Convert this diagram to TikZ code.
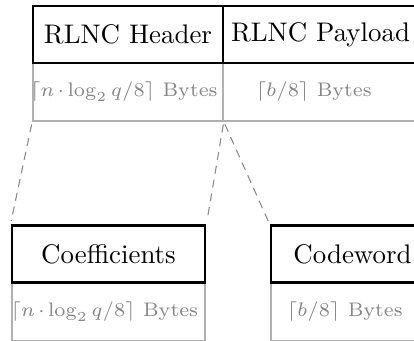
\documentclass[tikz,border=0pt]{standalone}
\usepackage{amsmath}
\usepackage{fix-cm}
\definecolor{frameg}{HTML}{B0B0B0}
\definecolor{textg}{HTML}{858585}
\definecolor{dashg}{HTML}{8A8A8A}
% byte-count formula with slightly tighter binary-operator spacing
\newcommand{\bytesof}[1]{$\medmuskip=2.5mu #1$ Bytes}
\begin{document}
\begin{tikzpicture}[x=0.372pt,y=-0.372pt,
  field/.style={draw=black,line width=1.1pt,fill=white,inner sep=0pt,
    minimum height=57*0.372pt,font=\normalsize},
  sizebox/.style={draw=frameg,line width=0.6pt,inner sep=0pt,
    minimum height=58*0.372pt},
  sizetext/.style={text=textg,inner sep=0pt,
    font=\fontsize{7.3pt}{9pt}\selectfont},
  zoomline/.style={draw=dashg,line width=0.4pt,dash pattern=on 3pt off 2.2pt,
    shorten <=1pt,shorten >=1.2pt}]
  \useasboundingbox (0,0) rectangle (414,340);
  \clip (0,0) rectangle (414,340);

  % packet: header and payload fields with their sizes
  \node[sizebox,minimum width=190*0.372pt] (hdrb) at (128,92) {};
  \node[sizebox,minimum width=195*0.372pt] (payb) at (320.5,92) {};
  \node[field,minimum width=190*0.372pt] (hdr) at (128,34.5) {RLNC Header};
  \node[field,minimum width=195*0.372pt] (pay) at (320.5,34.5) {RLNC Payload};
  \node[sizetext] (hdrt) at (124,92) {\bytesof{\lceil n\cdot\log_2 q/8\rceil}};
  \node[sizetext] (payt) at (314,92) {\bytesof{\lceil b/8\rceil}};

  % expanded view of the header and payload
  \node[sizebox,minimum width=193*0.372pt] (coefb) at (108.5,312) {};
  \node[sizebox,minimum width=163*0.372pt] (codeb) at (352.5,312) {};
  \node[field,minimum width=193*0.372pt] (coef) at (108.5,254) {Coefficients};
  \node[field,minimum width=163*0.372pt] (code) at (352.5,254) {Codeword};
  \node[sizetext] (coeft) at (104.5,312) {\bytesof{\lceil n\cdot\log_2 q/8\rceil}};
  \node[sizetext] (codet) at (345,312) {\bytesof{\lceil b/8\rceil}};

  % dashed guides from the packet to the expanded fields
  \draw[zoomline] (hdrb.south west) -- (coef.north west);
  \draw[zoomline] (hdrb.south east) -- (coef.north east);
  \draw[zoomline] (hdrb.south east) -- (code.north west);
\end{tikzpicture}
\end{document}
